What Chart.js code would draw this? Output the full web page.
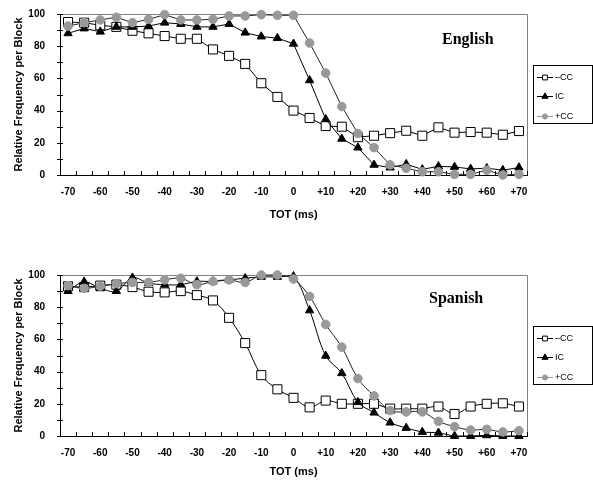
<!DOCTYPE html>
<html>
<head>
<meta charset="utf-8">
<script src="https://cdn.jsdelivr.net/npm/chart.js@4.4.0/dist/chart.umd.min.js"></script>
<style>
  body { margin: 0; background: #fff; }
  .box { position: relative; width: 593px; height: 240px; }
</style>
</head>
<body>
<div class="box"><canvas id="english"></canvas></div>
<div class="box"><canvas id="spanish"></canvas></div>
<script>
var tot = ['-70', '-65', '-60', '-55', '-50', '-45', '-40', '-35', '-30', '-25', '-20', '-15', '-10', '-5', '0',
  '+5', '+10', '+15', '+20', '+25', '+30', '+35', '+40', '+45', '+50', '+55', '+60', '+65', '+70'];

var engMinusCC = [95, 94.6, 93, 92, 89.6, 88, 86.3, 84.6, 84.6, 78, 74, 69, 57, 48.5, 40,
  35.4, 30.4, 30, 23.5, 24.4, 26, 27.5, 24.4, 29.6, 26.3, 26.7, 26.3, 25, 27.3];
var engIC = [88, 91, 89, 92, 92, 92.5, 94.6, 93.8, 92, 92, 93.8, 88.4, 86, 85, 81.5,
  58.8, 34.6, 22.5, 17, 6.3, 4.6, 6.7, 3.5, 5.4, 5, 3.8, 4.2, 3, 4.6];
var engPlusCC = [92.5, 94.6, 96.3, 98, 94.6, 96.7, 99.6, 96.3, 96.3, 96.7, 98.8, 98.8, 99.6, 99.2, 99.2,
  82, 63.3, 42.5, 25.8, 17, 6.3, 4.2, 2, 2, 0.4, 0.4, 3, 0, 0.4];

var spaMinusCC = [93, 92.5, 93.4, 94, 92.5, 89.6, 89.2, 90, 87.5, 84.2, 73.4, 57.7, 37.8, 29, 23.7,
  17.8, 22, 20, 20, 20, 17, 17, 17, 18.3, 13.7, 18.3, 20, 20.3, 18.3];
var spaIC = [90, 95.8, 91.7, 90, 98.3, 95, 94, 94, 96, 96, 97, 98, 98.8, 98.8, 99.2,
  78, 49.8, 39, 21, 14.5, 8.3, 5, 2.5, 2, 0, 0, 0.4, 0, 0];
var spaPlusCC = [93.4, 91.7, 93, 94.6, 95.4, 95.4, 97, 98, 94, 96, 97, 95.4, 100, 100, 97.5,
  86.7, 69.3, 55.2, 35.7, 24.9, 15.8, 15, 15, 9.1, 5.8, 3.7, 4.1, 2.5, 3.3];

var seriesNames = ['\u2013CC', 'IC', '+CC'];

Chart.defaults.font.family = '"Liberation Sans", Arial, sans-serif';
Chart.defaults.color = '#000';

// grey frame on top/right plus the little tick marks Excel draws
var frameTicks = {
  id: 'frameTicks',
  beforeDatasetsDraw: function (chart) {
    var ctx = chart.ctx, a = chart.chartArea, x = chart.scales.x, y = chart.scales.y;
    ctx.save();
    ctx.lineWidth = 1;
    ctx.strokeStyle = '#808080';
    ctx.beginPath();
    ctx.moveTo(a.left, Math.round(a.top) + 0.5);
    ctx.lineTo(Math.round(a.right) + 0.5, Math.round(a.top) + 0.5);
    ctx.lineTo(Math.round(a.right) + 0.5, a.bottom);
    ctx.stroke();
    ctx.strokeStyle = '#000';
    ctx.beginPath();
    y.ticks.forEach(function (t) {
      var py = Math.round(y.getPixelForValue(t.value)) + 0.5;
      ctx.moveTo(a.left - 3, py);
      ctx.lineTo(a.left + 3, py);
    });
    for (var i = 0; i <= tot.length; i++) {
      var px = Math.round(x.getPixelForValue(i - 0.5)) + 0.5;
      ctx.moveTo(px, a.bottom);
      ctx.lineTo(px, a.bottom - 4);
    }
    ctx.stroke();
    ctx.restore();
  }
};

// boxed legend with line + marker, and the language label inside the plot
var boxLegend = {
  id: 'boxLegend',
  afterDraw: function (chart, args, opts) {
    var ctx = chart.ctx, a = chart.chartArea;
    ctx.save();
    ctx.fillStyle = '#000';
    ctx.font = 'bold 16px "Liberation Serif", "Times New Roman", serif';
    ctx.textBaseline = 'alphabetic';
    ctx.fillText(opts.title, opts.titleX, a.top + opts.titleY);

    var left = 533.5, top = Math.round(a.top + 51) + 0.5;
    ctx.strokeStyle = '#000';
    ctx.lineWidth = 1;
    ctx.strokeRect(left, top, 59, 58);
    ctx.font = '9px "Liberation Sans", Arial, sans-serif';
    ctx.textBaseline = 'middle';
    chart.data.datasets.forEach(function (ds, i) {
      var ly = Math.round(top + 11 + i * 19.5) + 0.5;
      ctx.strokeStyle = i === 2 ? '#999999' : '#000';
      ctx.beginPath();
      ctx.moveTo(537, ly);
      ctx.lineTo(553, ly);
      ctx.stroke();
      ctx.fillStyle = ds.pointBackgroundColor;
      ctx.strokeStyle = ds.pointBorderColor;
      Chart.helpers.drawPoint(ctx, { pointStyle: ds.pointStyle, radius: ds.legendRadius, rotation: 0, borderWidth: 1 }, 545, ly);
      ctx.fillStyle = '#000';
      ctx.fillText(ds.label, 555, ly);
    });
    ctx.restore();
  }
};

function makeChart(id, minusCC, ic, plusCC, opt) {
  new Chart(document.getElementById(id), {
    type: 'line',
    data: {
      labels: tot,
      datasets: [
        {
          label: seriesNames[0], data: minusCC, order: 2,
          borderColor: '#000', borderWidth: 1, tension: opt.tension,
          pointStyle: 'rect', pointRadius: 6.4, legendRadius: 3.4,
          pointBackgroundColor: '#fff', pointBorderColor: '#000', pointBorderWidth: 1
        },
        {
          label: seriesNames[1], data: ic, order: 1,
          borderColor: '#000', borderWidth: 1, tension: opt.tension,
          pointStyle: 'triangle', pointRadius: 4.8, legendRadius: 3.6,
          pointBackgroundColor: '#000', pointBorderColor: '#000', pointBorderWidth: 1
        },
        {
          label: seriesNames[2], data: plusCC, order: 0,
          borderColor: '#222', borderWidth: 1, tension: opt.tension,
          pointStyle: 'circle', pointRadius: 4.3, legendRadius: 2.6,
          pointBackgroundColor: '#999999', pointBorderColor: '#999999', pointBorderWidth: 1
        }
      ]
    },
    options: {
      responsive: true,
      maintainAspectRatio: false,
      animation: false,
      clip: false,
      layout: { padding: { top: opt.top, right: 66, left: 0, bottom: 0 } },
      plugins: {
        legend: { display: false },
        tooltip: { enabled: false },
        boxLegend: { title: opt.title, titleX: opt.titleX, titleY: opt.titleY }
      },
      scales: {
        x: {
          type: 'category',
          offset: true,
          grid: { display: false, offset: true },
          border: { color: '#000', width: 1 },
          ticks: {
            autoSkip: false, maxRotation: 0, padding: 3,
            font: { size: 10, weight: 'bold' },
            callback: function (val, i) { return i % 2 === 0 ? this.getLabelForValue(val) : ''; }
          },
          title: {
            display: true, text: 'TOT (ms)',
            font: { size: 11, weight: 'bold' },
            padding: { top: 0, bottom: opt.xTitlePad }
          },
          afterFit: function (scale) { scale.height = opt.xHeight; }
        },
        y: {
          min: 0, max: 100,
          grid: { display: false },
          border: { color: '#000', width: 1 },
          ticks: {
            stepSize: 10, padding: 7,
            font: { size: 10, weight: 'bold' },
            callback: function (v) { return v % 20 === 0 ? v : ''; }
          },
          title: {
            display: true, text: 'Relative Frequency per Block',
            font: { size: 11, weight: 'bold' },
            padding: { top: 12, bottom: 0 }
          },
          afterFit: function (scale) { scale.width = 60; }
        }
      }
    },
    plugins: [frameTicks, boxLegend]
  });
}

makeChart('english', engMinusCC, engIC, engPlusCC,
  { top: 14, xHeight: 65, xTitlePad: 18, tension: 0, title: 'English', titleX: 442, titleY: 30 });
makeChart('spanish', spaMinusCC, spaIC, spaPlusCC,
  { top: 35, xHeight: 44, xTitlePad: 1, tension: 0.35, title: 'Spanish', titleX: 429, titleY: 28 });
</script>
</body>
</html>
